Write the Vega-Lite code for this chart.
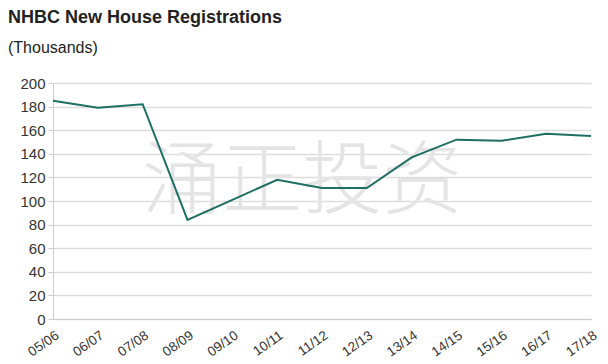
{
  "$schema": "https://vega.github.io/schema/vega-lite/v6.json",
  "width": 545,
  "height": 236,
  "autosize": "none",
  "padding": {"left": 53, "top": 83, "right": 10, "bottom": 45},
  "background": "white",
  "title": {
    "text": "NHBC New House Registrations",
    "subtitle": "(Thousands)",
    "anchor": "start",
    "frame": "group",
    "dx": -45,
    "offset": 20,
    "font": "Liberation Sans",
    "fontSize": 18,
    "fontWeight": "bold",
    "color": "#222222",
    "subtitleFont": "Liberation Sans",
    "subtitleFontSize": 16,
    "subtitleColor": "#222222",
    "subtitlePadding": 13
  },
  "config": {
    "view": {"stroke": null},
    "axis": {
      "labelFont": "Liberation Sans",
      "labelColor": "#333333",
      "gridColor": "#dddddd",
      "gridWidth": 1.5,
      "domainColor": "#cccccc",
      "tickColor": "#cccccc",
      "title": null
    }
  },
  "encoding": {
    "x": {
      "field": "period", "type": "ordinal", "sort": null,
      "scale": {"type": "point", "padding": 0, "range": [0, 538], "domain": ["05/06","06/07","07/08","08/09","09/10","10/11","11/12","12/13","13/14","14/15","15/16","16/17","17/18"]},
      "axis": {"labelAngle": -35, "labelFontSize": 13.5, "ticks": false, "labelPadding": 9, "grid": false, "labelOverlap": false}
    },
    "y": {
      "field": "value", "type": "quantitative",
      "scale": {"domain": [0, 200]},
      "axis": {"values": [0, 20, 40, 60, 80, 100, 120, 140, 160, 180, 200], "labelFontSize": 15, "tickSize": 5, "labelPadding": 3, "labelOverlap": false, "labelFlush": false}
    }
  },
  "layer": [
    {
      "data": {"values": [{"period": "10/11", "value": 115, "mark": "涌正投资"}]},
      "mark": {"type": "text", "font": "Noto Sans CJK SC", "fontWeight": 300, "fontSize": 80, "color": "#e4e4e4", "dx": 25, "align": "center", "baseline": "middle"},
      "encoding": {
        "text": {"field": "mark"}
      }
    },
    {
      "data": {"values": [
        {"period": "05/06", "value": 185},
        {"period": "06/07", "value": 179},
        {"period": "07/08", "value": 182},
        {"period": "08/09", "value": 84},
        {"period": "09/10", "value": 101},
        {"period": "10/11", "value": 118},
        {"period": "11/12", "value": 111},
        {"period": "12/13", "value": 111},
        {"period": "13/14", "value": 137},
        {"period": "14/15", "value": 152},
        {"period": "15/16", "value": 151},
        {"period": "16/17", "value": 157},
        {"period": "17/18", "value": 155}
      ]},
      "mark": {"type": "line", "color": "#1d6f63", "strokeWidth": 2},
      "encoding": {}
    }
  ]
}
